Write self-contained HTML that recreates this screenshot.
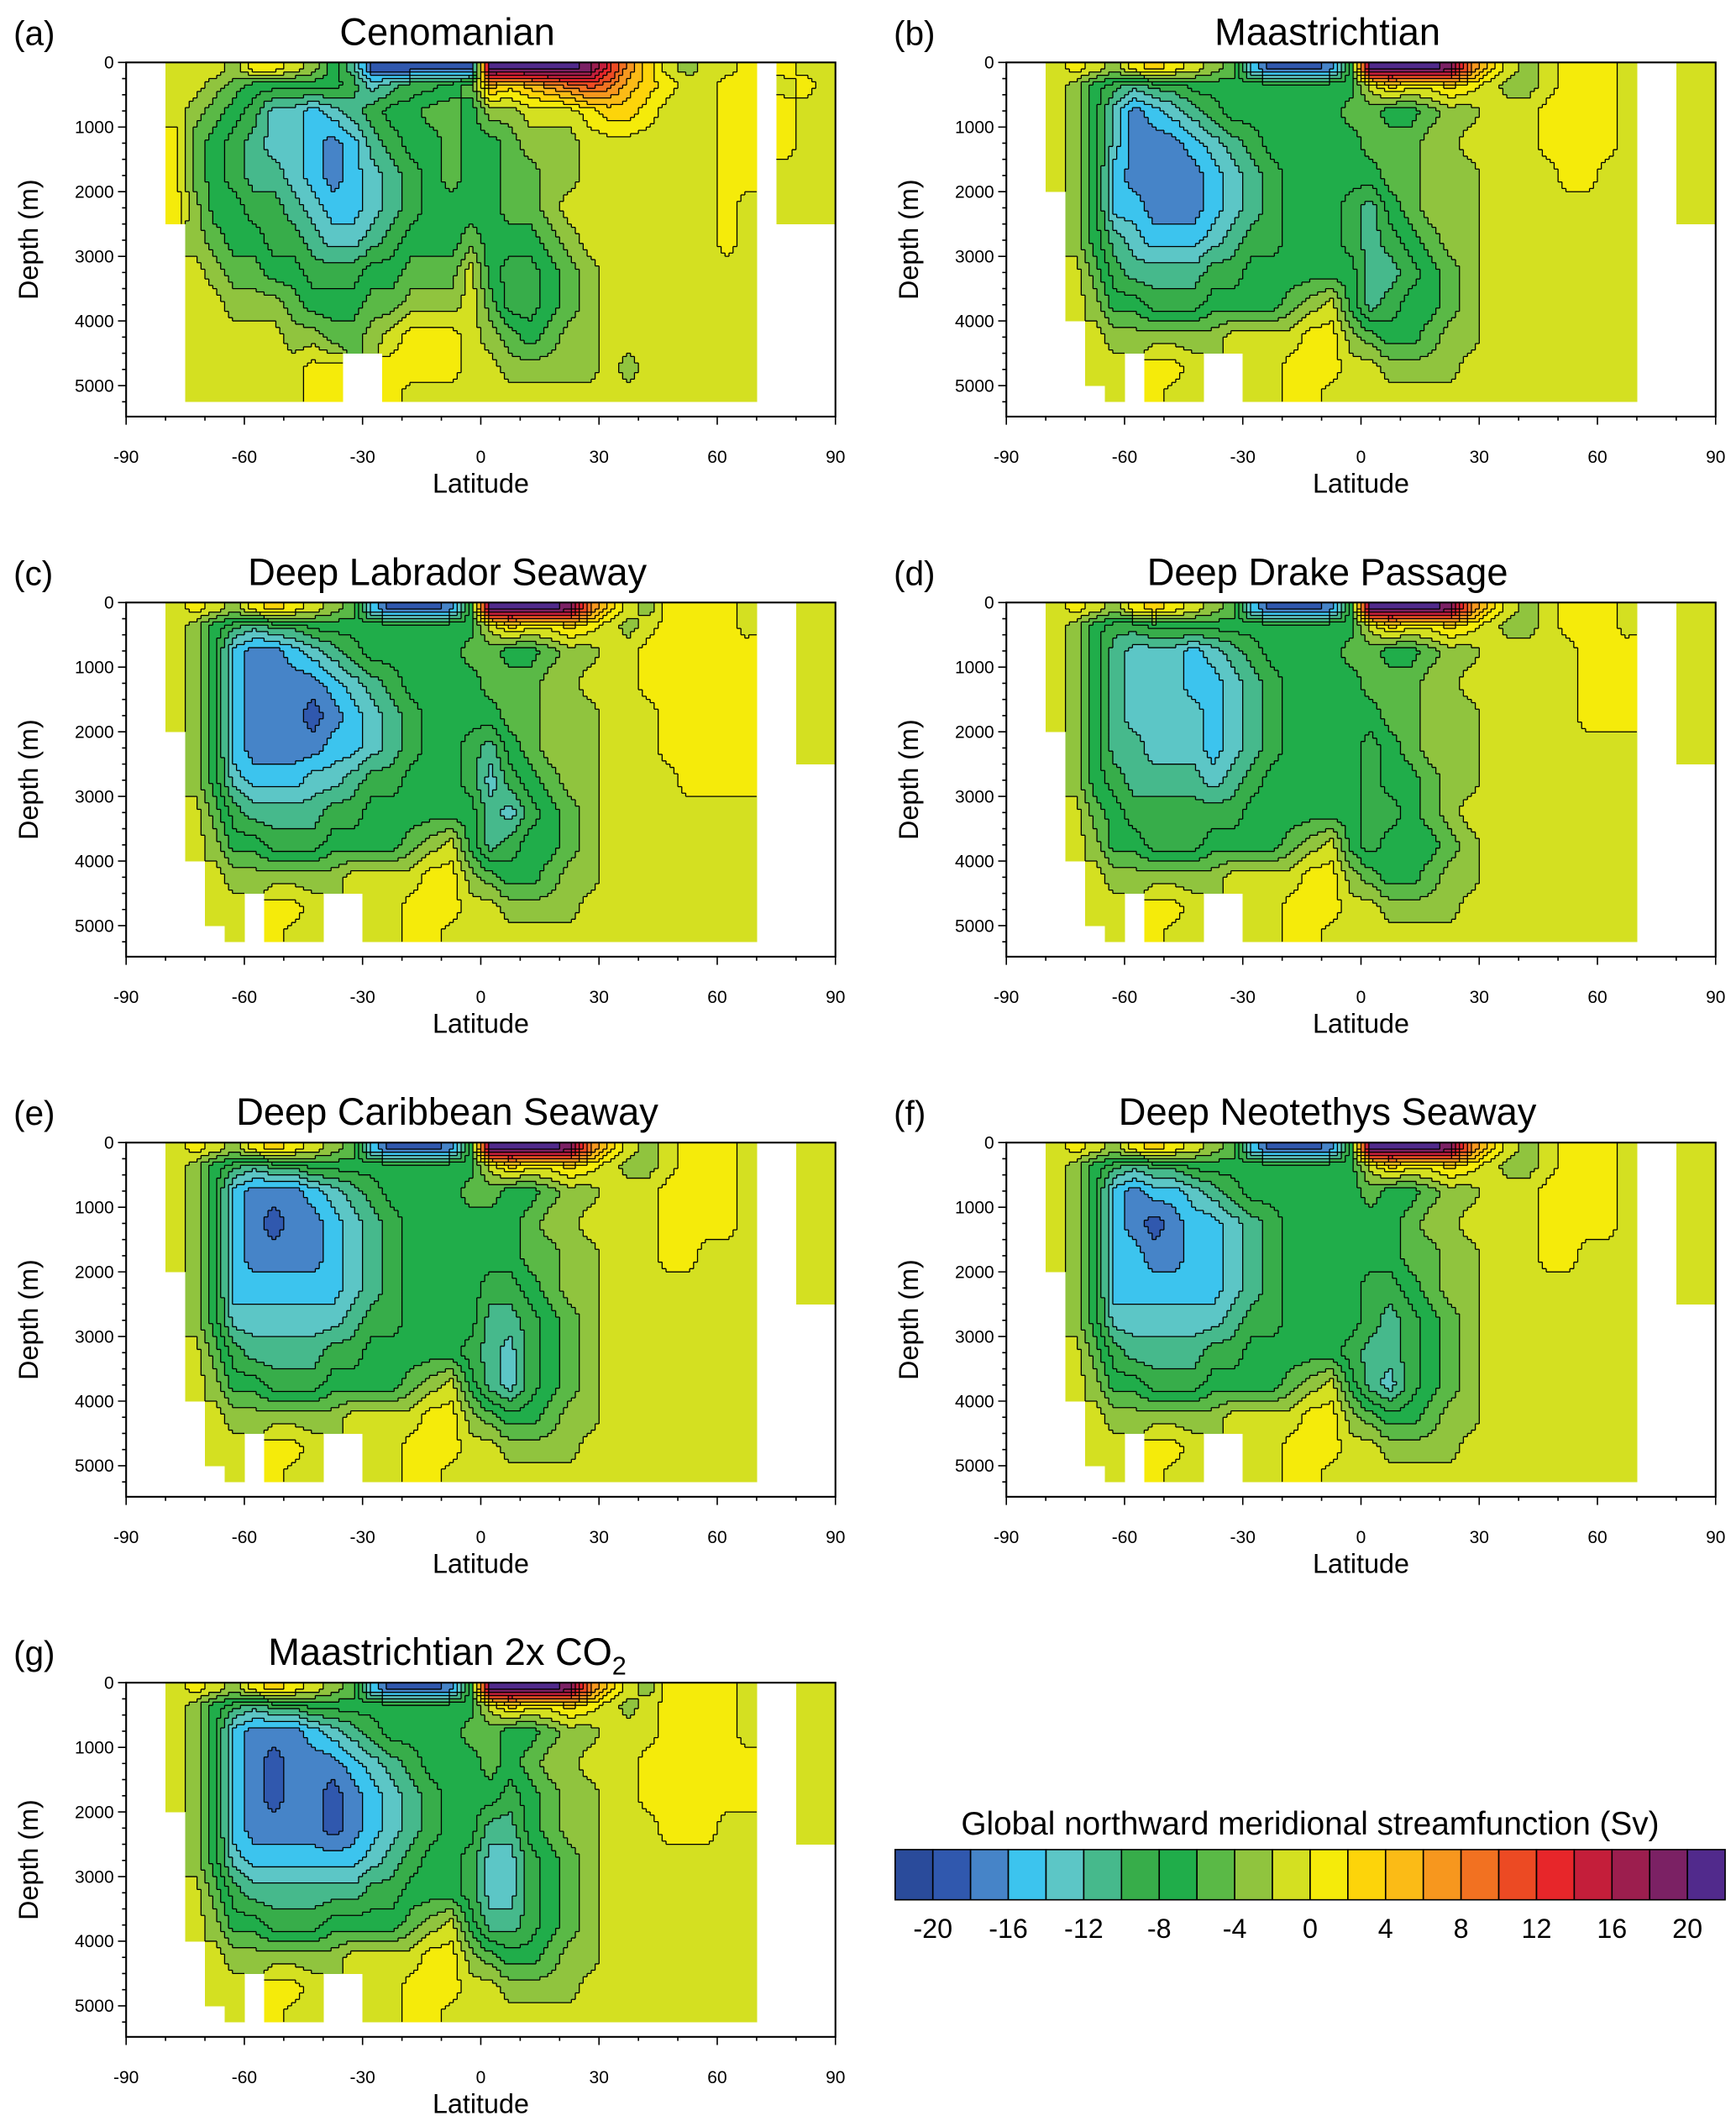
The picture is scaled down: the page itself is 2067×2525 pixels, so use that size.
<!DOCTYPE html>
<html><head><meta charset="utf-8"><title>Meridional streamfunction</title>
<style>html,body{margin:0;padding:0;background:#fff}svg{display:block;font-family:"Liberation Sans",Arial,sans-serif}</style>
</head><body>
<svg id="fig" width="2067" height="2525" viewBox="0 0 1280 1563" preserveAspectRatio="none" xmlns="http://www.w3.org/2000/svg"></svg>
<script>
// ---- data (streamfunction level codes: a=-21 ... k=-1, l=1 ... v=21 Sv, '.'=land; '|' is a visual separator) ----
const depthEdges=[0,200,500,1000,1500,2000,2500,3000,3500,4000,4500,5000,5250];
const latStart=-90, latStep=5, nLat=36;
const xTicks=[-90,-60,-30,0,30,60,90];
const yTicks=[0,1000,2000,3000,4000,5000];
const cbarTicks=[-20,-16,-12,-8,-4,0,4,8,12,16,20];
const levelColors=["#2a4b9b","#3058ae","#4684c8","#3cc4ee","#5cc6c6","#46b98c","#37ad4a","#20ad4a","#5ab946","#90c43e","#d4e021","#f5eb0a","#fdd40a","#fbbb16","#f7971e","#f27121","#ec4a23","#e7262a","#c41e3a","#9c1e4e","#7b2164","#512a8c"];
const titles=["Cenomanian","Maastrichtian","Deep Labrador Seaway","Deep Drake Passage","Deep Caribbean Seaway","Deep Neotethys Seaway","Maastrichtian 2x CO"];
const letters=["(a)","(b)","(c)","(d)","(e)","(f)","(g)"];
const rowsA=["..kkkjllkjhf|bbbbbb|vvvvvuromkjkkl|.lkk","..kkjihhhhhg|efgghi|nmnopqpnmlkkll|.klk","..kjihgeedef|ghhiih|jjkkklmmlkkkll|.lkk","..lihgfeedcd|fghhih|hijjjkkkkkkkll|.lkk","..lihgffedcd|efghih|hiijjkkkkkkkll|.kkk","..ljhhggfedd|efghhh|hiijkkkkkkkklk|.kkk","...jihhggfee|fghhhi|hhhijkkkkkkklk|....","...kjiihhggg|hhiiik|hgghijkkkkkkkk|....","...kkjjjihhh|iijjjk|igghijkkkkkkkk|....","...kkkkkjjii|jklllk|jihijjkkkkkkkk|....","...kkkkkkll.|.llllk|kjjjjjkjkkkkkk|....","...kkkkkkll.|.lkkkk|kkkkkkkkkkkkkk|...."];
const rowsB=["..klkjlmlkji|dbbbch|vvvvupmkjklllk|..kk","..kjhgfgghhh|hhhhhh|kmllmlkjjklllk|..kk","..kjhecdefgh|hhhhhi|ihhijjkkkllllk|..kk","..kjhecccdef|ghhhhh|iiijjkkkkllllk|..kk","..kjhdccccde|fghhhh|hiijjjkkkkllkk|..kk","...jhddcccde|fghhhg|fhijjjkkkkkkkk|..kk","...jhfedddef|gghhhg|fghijjkkkkkkkk|....","...kigffffgg|hhhhhh|ffghijkkkkkkkk|....","...kjhhggghh|hhijkh|fghhijkkkkkkkk|....","....kjjjjjjk|kkkllj|ihhijjkkkkkkkk|....","....kk.llk..|kklllk|kjjjjkkkkkkkkk|....",".....k.lkk..|kkllkk|kkkkkkkkkkkkkk|...."];
const rowsC=["..klkjlmlkji|dbbbch|vvvvupmkjllllk|..kk","..kjhgfgghhh|hhhhhh|kmllmlkjkllllk|..kk","..kjhdccdefg|hhhhhi|ihhijjkkllllll|..kk","..kjhdccccde|fghhhh|iiijjkkkllllll|..kk","..kjhdcccbcd|efghhh|hiijjjkkklllll|..kk","...jhdccccdd|efghhg|fhijjjkkklllll|..kk","...jhedddeef|gghhhg|eghijjkkkkllll|....","...kigffffgg|hhhhhh|feghijkkkkkkkk|....","...kjhhggghh|hhijkh|fghhijkkkkkkkk|....","....kjjjjjjk|kkkllj|ihhijjkkkkkkkk|....","....kk.llk..|kklllk|kjjjjkkkkkkkkk|....",".....k.lkk..|kkllkk|kkkkkkkkkkkkkk|...."];
const rowsD=["..klkjlmlkji|dbbbch|vvvvupmkjklllk|..kk","..kjhgghhhhh|hhhhhh|kmllmlkjjklllk|..kk","..kjhfeeedef|ghhhhi|ihhijjkkkkklll|..kk","..kjhfeeedde|fghhhh|iiijjkkkkkklll|..kk","..kjhfeeeede|fghhhh|hiijjjkkkkklll|..kk","...jhffeeede|fghhhh|ghijjjkkkkkkkk|..kk","...jhgffffef|ghhhhh|ghhijjkkkkkkkk|....","...kihgggggg|hhhhhh|gghijkkkkkkkkk|....","...kjhhggghh|hhijkh|ghhhijkkkkkkkk|....","....kjjjjjjk|kkkllj|ihhijjkkkkkkkk|....","....kk.llk..|kklllk|kjjjjkkkkkkkkk|....",".....k.lkk..|kkllkk|kkkkkkkkkkkkkk|...."];
const rowsE=["..klkjlmlkji|dbbbch|vvvvupmkjklllk|..kk","..kjhgfgghhh|hhhhhh|kmllmlkjjklllk|..kk","..kjhdcccdef|ghhhhi|ihhijjkkkllllk|..kk","..kjhdcbccde|fghhhh|hhijjkkkkllllk|..kk","..kjhdccccde|fghhhh|hhiijjkkkllkkk|..kk","...jhdddddde|fghhhh|gghijjkkkkkkkk|..kk","...jheeeeeef|gghhhh|ffghijkkkkkkkk|....","...kigffffgg|hhhhhg|feghijkkkkkkkk|....","...kjhhggghh|hhijkh|feghijkkkkkkkk|....","....kjjjjjjk|kkkllj|ihhijjkkkkkkkk|....","....kk.llk..|kklllk|kjjjjkkkkkkkkk|....",".....k.lkk..|kkllkk|kkkkkkkkkkkkkk|...."];
const rowsF=["..klkjlmlkji|dbbbch|vvvvupmkjklllk|..kk","..kjhgfgghhh|hhhhhh|kmllmlkjjklllk|..kk","..kjhdcddefg|hhhhhh|ihhijjkkkllllk|..kk","..kjhdcbcdde|fghhhh|hhijjkkkkllllk|..kk","..kjhddccdde|fghhhh|hhiijjkkkllkkk|..kk","...jhdddddde|fghhhh|gghijjkkkkkkkk|..kk","...jheeeeeef|gghhhh|gfghijkkkkkkkk|....","...kigffffgg|hhhhhg|ffghijkkkkkkkk|....","...kjhhggghh|hhijkh|feghijkkkkkkkk|....","....kjjjjjjk|kkkllj|ihhijjkkkkkkkk|....","....kk.llk..|kklllk|kjjjjkkkkkkkkk|....",".....k.lkk..|kkllkk|kkkkkkkkkkkkkk|...."];
const rowsG=["..klkjlmlkji|dbbbch|vvvvupmkjllllk|..kk","..kjhgfgghhh|hhhhhh|kmllmlkjkllllk|..kk","..kjhdcccdef|ghhhhi|ihhijjkkkllllk|..kk","..kjhdcbcccd|efghhh|ihijjkkkllllll|..kk","..kjhdcbccbc|defghh|hghijjkkllllll|..kk","...jhdccccbc|defghh|ffhijjkkklllkk|..kk","...jhedddddd|efghhg|eeghijkkkkkkkk|....","...kigffffff|gghhhg|eeghijkkkkkkkk|....","...kjhhggghh|hhijkh|ffghijkkkkkkkk|....","....kjjjjjjk|kkkllj|ihhijjkkkkkkkk|....","....kk.llk..|kklllk|kjjjjkkkkkkkkk|....",".....k.lkk..|kkllkk|kkkkkkkkkkkkkk|...."];
const panelRows=[rowsA,rowsB,rowsC,rowsD,rowsE,rowsF,rowsG];

// ---- layout ----
const NS="http://www.w3.org/2000/svg";
const svg=document.getElementById('fig');
const colX=[93,742], rowY=[46,444,842,1240], plotW=523, plotH=261, yMax=5480;
const fineLat=1, fineDepth=50;
function mk(tag,attrs,parent){const e=document.createElementNS(NS,tag);for(const k in attrs)e.setAttribute(k,attrs[k]);(parent||svg).appendChild(e);return e;}
function decode(row){return Array.from(row.replace(/\|/g,'').padEnd(nLat,'k').slice(0,nLat)).map(ch=>ch==='.'?null:-21+2*(ch.charCodeAt(0)-97));}
function levelOf(v){let i=Math.floor((v+22)/2);return Math.max(0,Math.min(21,i));}
const depthCenters=depthEdges.slice(0,-1).map((d,j)=>(d+depthEdges[j+1])/2);
function cellRow(d){for(let j=0;j<depthEdges.length-1;j++){if(d<depthEdges[j+1])return j;}return depthEdges.length-2;}
function sample(field,lat,d){
  const ic=Math.min(nLat-1,Math.floor((lat-latStart)/latStep)), jc=cellRow(d);
  const own=field[jc][ic]; if(own===null)return null;
  let fi=(lat-latStart)/latStep-0.5; let i0=Math.floor(fi); let tx=fi-i0;
  if(i0<0){i0=0;tx=0;} if(i0>=nLat-1){i0=nLat-2;tx=1;}
  let j0=0; while(j0<depthCenters.length-2&&d>=depthCenters[j0+1])j0++;
  let ty=(d-depthCenters[j0])/(depthCenters[j0+1]-depthCenters[j0]); ty=Math.max(0,Math.min(1,ty));
  const g=(j,i)=>{const v=field[j][i];return v===null?own:v;};
  return (1-ty)*((1-tx)*g(j0,i0)+tx*g(j0,i0+1))+ty*((1-tx)*g(j0+1,i0)+tx*g(j0+1,i0+1));
}

panelRows.forEach((rows,p)=>{
  const x0=colX[p%2], y0=rowY[Math.floor(p/2)];
  const xs=lat=>x0+(lat+90)/180*plotW;
  const ys=d=>y0+d/yMax*plotH;
  const g=mk('g',{});
  
  
  const field=rows.map(decode);
  const nx=180/fineLat, ny=Math.round(depthEdges[depthEdges.length-1]/fineDepth);
  const lev=[];
  for(let r=0;r<ny;r++){const row=[];for(let c=0;c<nx;c++){const v=sample(field,-90+(c+0.5)*fineLat,(r+0.5)*fineDepth);row.push(v===null?-1:levelOf(v));}lev.push(row);}
  const cells=mk('g',{'shape-rendering':'crispEdges'},g);
  
  
  lev.forEach((row,r)=>{
    let c=0;
    while(c<nx){const L=row[c];let e=c;while(e+1<nx&&row[e+1]===L)e++;
      if(L>=0){const xa=xs(-90+c*fineLat),xb=xs(-90+(e+1)*fineLat),ya=ys(r*fineDepth),yb=ys((r+1)*fineDepth);
        const rc=mk('rect',{x:xa.toFixed(2),y:ya.toFixed(2),width:(xb-xa+0.3).toFixed(2),height:(yb-ya+0.3).toFixed(2),fill:levelColors[L]},cells);
        
        }
      c=e+1;}
  });
  let dpath='';
  for(let r=0;r<ny;r++)for(let c=0;c<nx;c++){const L=lev[r][c];if(L<0)continue;
    if(c+1<nx&&lev[r][c+1]>=0&&lev[r][c+1]!==L){dpath+=`M${xs(-90+(c+1)*fineLat).toFixed(1)} ${ys(r*fineDepth).toFixed(1)}V${ys((r+1)*fineDepth).toFixed(1)}`;}
    if(r+1<ny&&lev[r+1][c]>=0&&lev[r+1][c]!==L){dpath+=`M${xs(-90+c*fineLat).toFixed(1)} ${ys((r+1)*fineDepth).toFixed(1)}H${xs(-90+(c+1)*fineLat).toFixed(1)}`;}
  }
  const cl=mk('path',{d:dpath,stroke:'#000','stroke-width':0.8,fill:'none'},g);
  
  
  const fr=mk('rect',{x:x0,y:y0,width:plotW,height:plotH,fill:'none',stroke:'#000','stroke-width':1.3},g);
  
  
  let tp='';
  for(let d=0;d<=5250;d+=250){const y=ys(d);tp+=`M${x0} ${y}h${d%1000===0?-6:-3}`;}
  for(let l=-90;l<=90;l+=10){const x=xs(l);tp+=`M${x} ${y0+plotH}v${l%30===0?6:3}`;}
  const tk=mk('path',{d:tp,stroke:'#000','stroke-width':1,fill:'none'},g);
  
  
  yTicks.forEach(d=>{const t=mk('text',{x:x0-9,y:ys(d)+4.5,'font-size':13,'text-anchor':'end'},g);t.textContent=d;
    
    });
  xTicks.forEach(l=>{const t=mk('text',{x:xs(l),y:y0+plotH+34,'font-size':13,'text-anchor':'middle'},g);t.textContent=l;
    
    });
  const xt=mk('text',{x:xs(0),y:y0+plotH+56,'font-size':20,'text-anchor':'middle'},g);xt.textContent='Latitude';
  
  
  const yt=mk('text',{x:0,y:0,'font-size':20,'text-anchor':'middle',transform:`translate(${x0-65},${y0+plotH/2}) rotate(-90)`},g);yt.textContent='Depth (m)';
  
  
  const lt=mk('text',{x:x0-83,y:y0-13,'font-size':25},g);lt.textContent=letters[p];
  
  
  const tt=mk('text',{x:xs(-8.5),y:y0-13,'font-size':28,'text-anchor':'middle'},g);tt.textContent=titles[p];
  
  
  if(p===6){const s=mk('tspan',{'font-size':19,dy:7},tt);s.textContent='2';}
});

// ---- colorbar ----
const cb=mk('g',{});


const cbx0=660,cbx1=1272,cby=1363,cbh=37;
const bw=(cbx1-cbx0)/levelColors.length;
levelColors.forEach((c,i)=>{const r=mk('rect',{x:cbx0+i*bw,y:cby,width:bw,height:cbh,fill:c,stroke:'#000','stroke-width':1},cb);
  
  });
const cbv=v=>cbx0+(v+22)/2*bw;
cbarTicks.forEach(v=>{const t=mk('text',{x:cbv(v),y:1428,'font-size':20,'text-anchor':'middle'},cb);t.textContent=v;
  
  });
const cbt=mk('text',{x:(cbx0+cbx1)/2,y:1352,'font-size':24,'text-anchor':'middle'},cb);
cbt.textContent='Global northward meridional streamfunction (Sv)';


</script>
</body></html>
